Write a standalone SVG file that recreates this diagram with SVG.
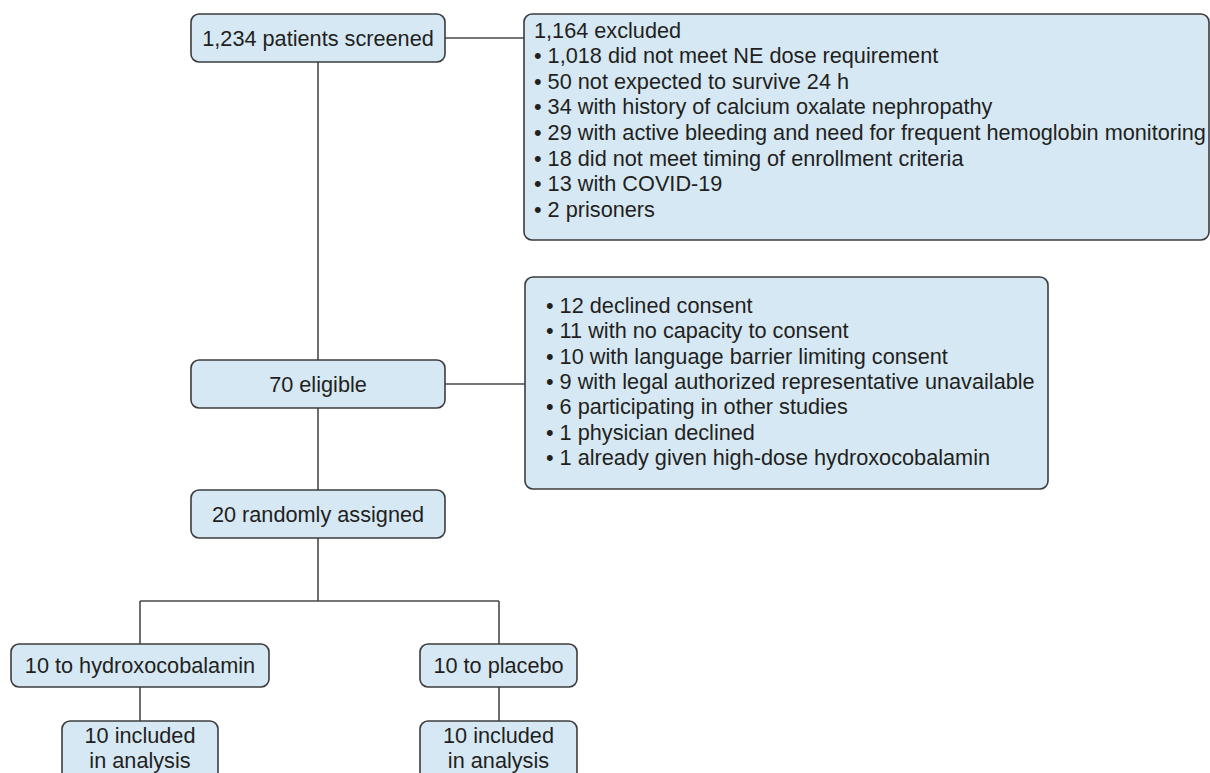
<svg xmlns="http://www.w3.org/2000/svg" width="1210" height="773" viewBox="0 0 1210 773">
<style>
.box{fill:#d5e8f4;stroke:#3c3c3c;stroke-width:1.6}
.t{font-family:"Liberation Sans",Arial,sans-serif;font-size:21.7px;fill:#231f20}
.c{text-anchor:middle}
.ln{stroke:#4a4a4a;stroke-width:1.6;fill:none}
</style>
<rect width="1210" height="773" fill="#ffffff"/>
<g id="connectors">
<path class="ln" d="M318 62V360M318 408V490M318 538V601M140 601H499M140 601V644M499 601V644M140 687V721M499 687V721M445 38H524M445 384H525"/>
</g>
<g id="screened">
<rect class="box" x="191" y="14" width="254" height="48" rx="8"/>
<text class="t c" x="318" y="45.5">1,234 patients screened</text>
</g>
<g id="excluded1">
<rect class="box" x="524" y="14" width="685" height="226" rx="8"/>
<text class="t" x="534" y="37.5">1,164 excluded</text>
<text class="t" x="534" y="63.1">• 1,018 did not meet NE dose requirement</text>
<text class="t" x="534" y="88.7">• 50 not expected to survive 24 h</text>
<text class="t" x="534" y="114.3">• 34 with history of calcium oxalate nephropathy</text>
<text class="t" x="534" y="139.9">• 29 with active bleeding and need for frequent hemoglobin monitoring</text>
<text class="t" x="534" y="165.5">• 18 did not meet timing of enrollment criteria</text>
<text class="t" x="534" y="191.1">• 13 with COVID-19</text>
<text class="t" x="534" y="216.7">• 2 prisoners</text>
</g>
<g id="eligible">
<rect class="box" x="191" y="360" width="254" height="48" rx="8"/>
<text class="t c" x="318" y="391.5">70 eligible</text>
</g>
<g id="excluded2">
<rect class="box" x="525" y="277" width="523" height="212" rx="8"/>
<text class="t" x="546" y="313">• 12 declined consent</text>
<text class="t" x="546" y="338.3">• 11 with no capacity to consent</text>
<text class="t" x="546" y="363.6">• 10 with language barrier limiting consent</text>
<text class="t" x="546" y="388.9">• 9 with legal authorized representative unavailable</text>
<text class="t" x="546" y="414.2">• 6 participating in other studies</text>
<text class="t" x="546" y="439.5">• 1 physician declined</text>
<text class="t" x="546" y="464.8">• 1 already given high-dose hydroxocobalamin</text>
</g>
<g id="randomized">
<rect class="box" x="191" y="490" width="254" height="48" rx="8"/>
<text class="t c" x="318" y="521.5">20 randomly assigned</text>
</g>
<g id="hydroxo">
<rect class="box" x="11" y="644" width="258" height="43" rx="8"/>
<text class="t c" x="140" y="673">10 to hydroxocobalamin</text>
</g>
<g id="placebo">
<rect class="box" x="420" y="644" width="157" height="43" rx="8"/>
<text class="t c" x="498.5" y="673">10 to placebo</text>
</g>
<g id="included1">
<rect class="box" x="62" y="721" width="156" height="70" rx="8"/>
<text class="t c" x="140" y="743">10 included</text>
<text class="t c" x="140" y="767.5">in analysis</text>
</g>
<g id="included2">
<rect class="box" x="420" y="721" width="157" height="70" rx="8"/>
<text class="t c" x="498.5" y="743">10 included</text>
<text class="t c" x="498.5" y="767.5">in analysis</text>
</g>
</svg>
